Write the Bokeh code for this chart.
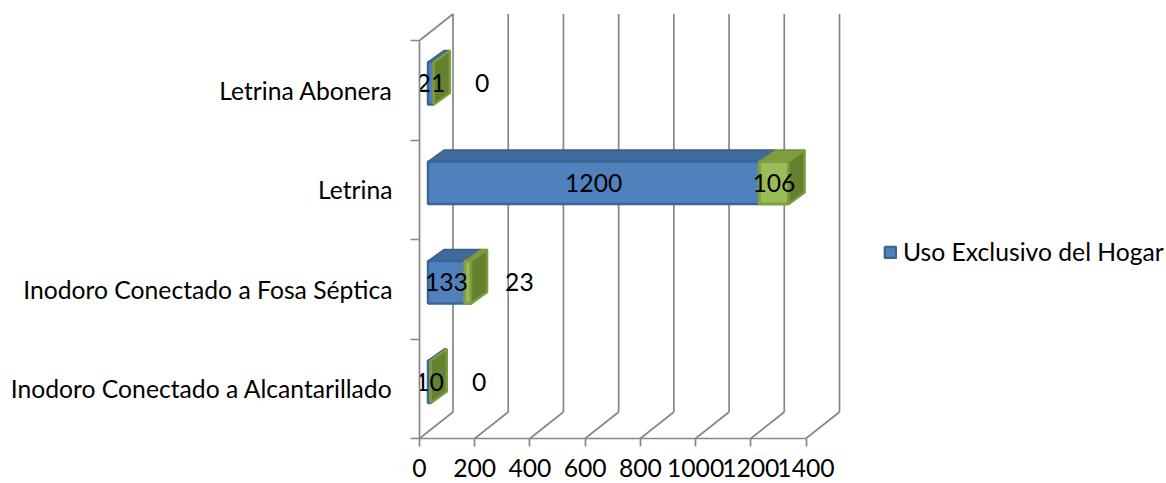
from bokeh.plotting import figure
from bokeh.models import Range1d, LinearAxis, FixedTicker, Legend, LegendItem
from bokeh.core.properties import value
from bokeh.embed import file_html
from bokeh.resources import INLINE

# ---- data -------------------------------------------------------------
categories = [
    "Inodoro Conectado a Alcantarillado",
    "Inodoro Conectado a Fosa Séptica",
    "Letrina",
    "Letrina Abonera",
]
exclusive = [10, 133, 1200, 21]      # first stacked series (blue)
shared = [0, 23, 106, 0]             # second stacked series (green)
x_ticks = [0, 200, 400, 600, 800, 1000, 1200, 1400]
series_name = "Uso Exclusivo del Hogar"

# ---- layout -----------------------------------------------------------
W, H = 1166, 483
LEFT, BOTTOM = 419, 45
X_PER_PX = 1400 / 386.5      # value units per pixel
Y_PER_PX = 1 / 99.5          # category units per pixel

FONT = "Lato"
FSIZE = "24.7px"
GRAY = "#868686"

# depth of the 3D box (walls) and of the bars, in data units
WALL_DX, WALL_DY = 33.5 * X_PER_PX, 26.5 * Y_PER_PX
BAR_X0, BAR_Y0 = 8.5 * X_PER_PX, 7 * Y_PER_PX
BAR_DX, BAR_DY = 16 * X_PER_PX, 11.5 * Y_PER_PX
BAR_H = 42.5 * Y_PER_PX

p = figure(
    width=W, height=H,
    x_range=Range1d(0, (W - LEFT) * X_PER_PX),
    y_range=Range1d(-0.5, -0.5 + (H - BOTTOM) * Y_PER_PX),
    x_axis_type=None, y_axis_type=None,
    toolbar_location=None, output_backend="svg",
    min_border_left=LEFT, min_border_bottom=BOTTOM,
    min_border_top=0, min_border_right=0,
)
p.outline_line_color = None
p.background_fill_color = "white"

n = len(categories)
y_lo, y_hi = -0.5, n - 0.5

# ---- walls: back grid lines, floor diagonals, left wall top edge --------
p.segment(
    x0=[t + WALL_DX for t in x_ticks], y0=[y_lo + WALL_DY] * len(x_ticks),
    x1=[t + WALL_DX for t in x_ticks], y1=[y_hi + WALL_DY] * len(x_ticks),
    line_color=GRAY, line_width=1.7,
)
p.segment(
    x0=x_ticks, y0=[y_lo] * len(x_ticks),
    x1=[t + WALL_DX for t in x_ticks], y1=[y_lo + WALL_DY] * len(x_ticks),
    line_color=GRAY, line_width=1.7,
)
p.segment(x0=[0], y0=[y_hi], x1=[WALL_DX], y1=[y_hi + WALL_DY],
          line_color=GRAY, line_width=1.7)

# ---- stacked 3D bars ----------------------------------------------------
yc = [i + BAR_Y0 for i in range(n)]
yb = [c - BAR_H / 2 for c in yc]
yt = [c + BAR_H / 2 for c in yc]
xa = [BAR_X0] * n
xb = [BAR_X0 + e for e in exclusive]
xc = [b + s for b, s in zip(xb, shared)]

def top_face(left, right, top):
    xs = [[l, r, r + BAR_DX, l + BAR_DX] for l, r in zip(left, right)]
    ys = [[t, t, t + BAR_DY, t + BAR_DY] for t in top]
    return xs, ys

bx, by = top_face(xa, xb, yt)
p.patches(bx, by, fill_color="#3F6A9C", line_color="#385D8A", line_width=1.5)
blue = p.quad(left=xa, right=xb, bottom=yb, top=yt,
              fill_color="#4F81BD", line_color="#3A6597", line_width=2.5)

gx, gy = top_face(xb, xc, yt)
p.patches(gx, gy, fill_color="#7F9D3F", line_color="#71903A", line_width=1.5)
p.quad(left=xb, right=xc, bottom=yb, top=yt,
       fill_color="#9BBB59", line_color="#819F42", line_width=3)

sx = [[r, r + BAR_DX, r + BAR_DX, r] for r in xc]
sy = [[b, b + BAR_DY, t + BAR_DY, t] for b, t in zip(yb, yt)]
p.patches(sx, sy, fill_color="#65802F", line_color="#7C9B3E", line_width=2.5)

# ---- data labels --------------------------------------------------------
lab_x = [a + e / 2 for a, e in zip(xa, exclusive)]
lab_y = list(yc)
lab_t = [str(e) for e in exclusive]
for b, s, c, y in zip(xb, shared, xc, yc):
    lab_x.append(b + s / 2 if s >= 100 else c + 175)
    lab_y.append(y)
    lab_t.append(str(s))
p.text(x=lab_x, y=lab_y, text=lab_t, text_font=value(FONT),
       text_font_size=FSIZE, text_align="center", text_baseline="middle",
       text_color="black")

# ---- axes ---------------------------------------------------------------
xaxis = LinearAxis(
    ticker=FixedTicker(ticks=x_ticks), bounds=(0, 1400),
    axis_line_color=GRAY, axis_line_width=1.7,
    major_tick_line_color=GRAY, major_tick_line_width=1.7,
    major_tick_out=8, major_tick_in=0,
    minor_tick_line_color=None,
    major_label_text_font=FONT, major_label_text_font_size=FSIZE,
    major_label_text_color="black", major_label_standoff=12,
)
p.add_layout(xaxis, "below")

yaxis = LinearAxis(
    ticker=FixedTicker(ticks=list(range(n)),
                       minor_ticks=[i - 0.5 for i in range(n + 1)]),
    bounds=(y_lo, y_hi),
    major_label_overrides={i: c for i, c in enumerate(categories)},
    axis_line_color=GRAY, axis_line_width=1.7,
    major_tick_line_color=None, major_tick_out=0, major_tick_in=0,
    minor_tick_line_color=GRAY, minor_tick_line_width=1.7,
    minor_tick_out=9, minor_tick_in=0,
    major_label_text_font=FONT, major_label_text_font_size=FSIZE,
    major_label_text_color="black", major_label_standoff=18,
)
p.add_layout(yaxis, "left")

# ---- legend -------------------------------------------------------------
legend = Legend(
    items=[LegendItem(label=series_name, renderers=[blue])],
    location=(464, 172),
    border_line_color=None, background_fill_alpha=0,
    padding=0, margin=0, glyph_width=14, glyph_height=14,
    label_standoff=6, label_text_font=FONT, label_text_font_size=FSIZE,
    label_text_color="black",
)
p.add_layout(legend)

open("out.html", "w").write(file_html(p, INLINE))
